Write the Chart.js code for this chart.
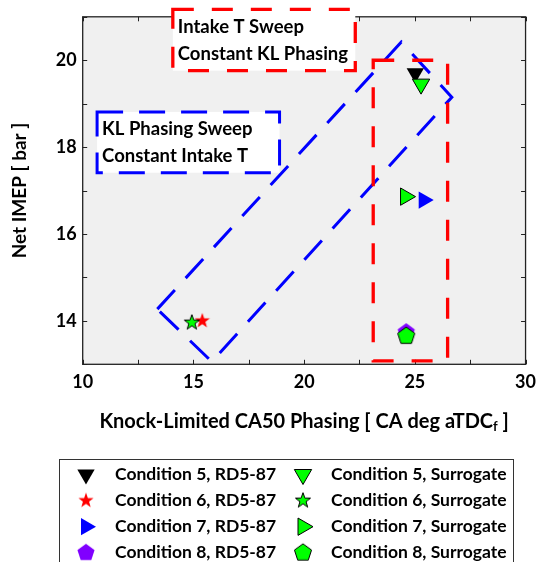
<!DOCTYPE html>
<html>
<head>
<meta charset="utf-8">
<script src="https://cdn.jsdelivr.net/npm/chart.js@4"></script>
<style>
  html, body { margin: 0; padding: 0; background: #fff; }
  #wrap { width: 543px; height: 562px; }
</style>
</head>
<body>
<div id="wrap"><canvas id="imepChart" width="543" height="562"></canvas></div>
<script>
const conditions = ['Condition 5', 'Condition 6', 'Condition 7', 'Condition 8'];
const rd5Phasing = [25.02, 15.40, 25.40, 24.61];
const rd5Imep = [19.70, 14.00, 16.78, 13.74];
const surPhasing = [25.28, 14.93, 24.58, 24.61];
const surImep = [19.45, 13.96, 16.86, 13.65];
const xTicks = [10, 15, 20, 25, 30];
const yTicks = [14, 16, 18, 20];

// annotation outlines, in data units
const intakeBoxX = [14.07, 22.31];
const intakeBoxY = [19.76, 21.17];
const intakeLines = ['Intake T Sweep', 'Constant KL Phasing'];
const klBoxX = [10.65, 18.89];
const klBoxY = [17.41, 18.81];
const klLines = ['KL Phasing Sweep', 'Constant Intake T'];
const intakeRegionX = [23.12, 26.48];
const intakeRegionY = [13.08, 20.0];
const klRegionX = [13.37, 24.39, 26.67, 15.83];
const klRegionY = [14.27, 20.42, 19.15, 13.06];

const FONT = 'Lato, "Open Sans", sans-serif';
const GREEN = '#00ff00';

// star / pentagon are not built in, so draw them into small canvases
function shapeCanvas(pts, R, fill, stroke) {
    const size = Math.ceil(2 * R + 4);
    const c = document.createElement('canvas');
    c.width = size; c.height = size;
    const g = c.getContext('2d');
    g.translate(size / 2, size / 2);
    g.beginPath();
    pts.forEach((p, i) => i ? g.lineTo(p[0], p[1]) : g.moveTo(p[0], p[1]));
    g.closePath();
    g.fillStyle = fill;
    g.fill();
    if (stroke) { g.strokeStyle = stroke; g.lineWidth = 1; g.stroke(); }
    return c;
}
function starPts(R) {
    const pts = [];
    for (let k = 0; k < 10; k++) {
        const r = k % 2 ? R * 0.4 : R;
        const a = -Math.PI / 2 + k * Math.PI / 5;
        pts.push([r * Math.cos(a), r * Math.sin(a)]);
    }
    return pts;
}
function pentaPts(R) {
    const pts = [];
    for (let k = 0; k < 5; k++) {
        const a = -Math.PI / 2 + k * 2 * Math.PI / 5;
        pts.push([R * Math.cos(a), R * Math.sin(a)]);
    }
    return pts;
}

const rd5Markers = [
    { pointStyle: 'triangle', rotation: 180, fill: '#000000', stroke: '#000000', bw: 0 },
    { pointStyle: shapeCanvas(starPts(8), 8, '#ff0000', null), rotation: 0, fill: '#ff0000', stroke: '#ff0000', bw: 0 },
    { pointStyle: 'triangle', rotation: 90, fill: '#0000ff', stroke: '#0000ff', bw: 0 },
    { pointStyle: shapeCanvas(pentaPts(9), 9, '#8000ff', null), rotation: 0, fill: '#8000ff', stroke: '#8000ff', bw: 0 }
];
const surMarkers = [
    { pointStyle: 'triangle', rotation: 180, fill: GREEN, stroke: '#000000', bw: 1 },
    { pointStyle: shapeCanvas(starPts(8), 8, GREEN, '#000000'), rotation: 0, fill: GREEN, stroke: '#000', bw: 1 },
    { pointStyle: 'triangle', rotation: 90, fill: GREEN, stroke: '#000000', bw: 1 },
    { pointStyle: shapeCanvas(pentaPts(9), 9, GREEN, '#000000'), rotation: 0, fill: GREEN, stroke: '#000', bw: 1 }
];

function markerDataset(label, x, y, m, order) {
    return {
        label: label,
        data: [{ x: x, y: y }],
        order: order,
        pointStyle: m.pointStyle,
        pointRotation: m.rotation,
        pointRadius: 10,
        pointHoverRadius: 10,
        backgroundColor: m.fill,
        borderColor: m.stroke,
        borderWidth: m.bw,
        pointHoverBorderWidth: m.bw
    };
}

const datasets = [];
conditions.forEach((c, i) => {
    datasets.push(markerDataset(c + ', Surrogate', surPhasing[i], surImep[i], surMarkers[i], 0));
    datasets.push(markerDataset(c + ', RD5-87', rd5Phasing[i], rd5Imep[i], rd5Markers[i], 1));
});

// gray plot background
const plotBackground = {
    id: 'plotBackground',
    beforeDraw(chart) {
        const { ctx, chartArea: a } = chart;
        ctx.save();
        ctx.fillStyle = '#f0f0f0';
        ctx.fillRect(a.left, a.top, a.right - a.left, a.bottom - a.top);
        ctx.restore();
    }
};

function dashedPath(ctx, pts, color, width, dash) {
    ctx.save();
    ctx.strokeStyle = color;
    ctx.lineWidth = width;
    ctx.setLineDash(dash);
    ctx.beginPath();
    pts.forEach((p, i) => i ? ctx.lineTo(p[0], p[1]) : ctx.moveTo(p[0], p[1]));
    ctx.closePath();
    ctx.stroke();
    ctx.restore();
}

// frame, inward ticks, dashed annotations
const frameAndNotes = {
    id: 'frameAndNotes',
    beforeDatasetsDraw(chart) {
        const { ctx, chartArea: a, scales: { x, y } } = chart;
        ctx.save();
        ctx.strokeStyle = '#222';
        ctx.lineWidth = 1;
        x.ticks.forEach(t => {
            const px = Math.round(x.getPixelForValue(t.value)) + 0.5;
            ctx.beginPath();
            ctx.moveTo(px, a.bottom); ctx.lineTo(px, a.bottom - 4.5);
            ctx.moveTo(px, a.top); ctx.lineTo(px, a.top + 4.5);
            ctx.stroke();
        });
        y.ticks.forEach(t => {
            const py = Math.round(y.getPixelForValue(t.value)) + 0.5;
            ctx.beginPath();
            ctx.moveTo(a.left, py); ctx.lineTo(a.left + 4.5, py);
            ctx.moveTo(a.right, py); ctx.lineTo(a.right - 4.5, py);
            ctx.stroke();
        });
        ctx.lineWidth = 1.3;
        ctx.strokeRect(a.left, a.top, a.right - a.left, a.bottom - a.top);
        ctx.restore();

        const boxPts = (bx, by) => [
            [x.getPixelForValue(bx[0]), y.getPixelForValue(by[1])],
            [x.getPixelForValue(bx[1]), y.getPixelForValue(by[1])],
            [x.getPixelForValue(bx[1]), y.getPixelForValue(by[0])],
            [x.getPixelForValue(bx[0]), y.getPixelForValue(by[0])]
        ];

        // blue slanted region
        const klPts = klRegionX.map((v, i) => [x.getPixelForValue(v), y.getPixelForValue(klRegionY[i])]);
        dashedPath(ctx, klPts, '#0000ff', 3, [26, 16]);
        // red region
        dashedPath(ctx, boxPts(intakeRegionX, intakeRegionY), '#ff0000', 3.3, [21, 18]);

        // text boxes
        const textBox = (bx, by, lines, color, dash, lw) => {
            const p = boxPts(bx, by);
            ctx.save();
            ctx.fillStyle = '#ffffff';
            ctx.fillRect(p[0][0], p[0][1], p[1][0] - p[0][0], p[2][1] - p[0][1]);
            ctx.restore();
            dashedPath(ctx, p, color, lw, dash);
            ctx.save();
            ctx.fillStyle = '#000';
            ctx.font = 'bold 18.5px ' + FONT;
            ctx.textBaseline = 'middle';
            lines.forEach((s, i) => ctx.fillText(s, p[0][0] + 5, p[0][1] + 17.5 + i * 27));
            ctx.restore();
        };
        textBox(intakeBoxX, intakeBoxY, intakeLines, '#ff0000', [21, 18], 3.3);
        textBox(klBoxX, klBoxY, klLines, '#0000ff', [26, 16], 3);
    }
};

function drawMarker(ctx, m, px, py) {
    ctx.save();
    ctx.fillStyle = m.fill;
    ctx.strokeStyle = m.stroke;
    ctx.lineWidth = m.bw;
    Chart.helpers.drawPoint(ctx, { pointStyle: m.pointStyle, rotation: m.rotation, radius: 10, borderWidth: m.bw }, px, py);
    ctx.restore();
}

// x title with subscript, and the two-column legend
const titleAndLegend = {
    id: 'titleAndLegend',
    afterDraw(chart) {
        const { ctx, chartArea: a } = chart;
        ctx.save();
        ctx.fillStyle = '#000';
        ctx.textBaseline = 'middle';
        const main = 'Knock-Limited CA50 Phasing [ CA deg aTDC';
        const tail = ' ]';
        const bigFont = 'bold 20px ' + FONT;
        const subFont = 'bold 13px ' + FONT;
        ctx.font = bigFont;
        const w1 = ctx.measureText(main).width, w3 = ctx.measureText(tail).width;
        ctx.font = subFont;
        const w2 = ctx.measureText('f').width;
        let tx = (a.left + a.right) / 2 - (w1 + w2 + w3) / 2;
        const ty = 421.7;
        ctx.font = bigFont;
        ctx.fillText(main, tx, ty);
        ctx.font = subFont;
        ctx.fillText('f', tx + w1, ty + 5);
        ctx.font = bigFont;
        ctx.fillText(tail, tx + w1 + w2, ty);

        // legend frame
        ctx.strokeStyle = '#333';
        ctx.lineWidth = 1;
        ctx.strokeRect(59.5, 459.5, 454, 120);
        ctx.font = 'bold 17.5px ' + FONT;
        conditions.forEach((c, i) => {
            const ry = 474.5 + i * 26.1;
            drawMarker(ctx, rd5Markers[i], 86, ry);
            drawMarker(ctx, surMarkers[i], 303, ry);
            ctx.fillStyle = '#000';
            ctx.fillText(c + ', RD5-87', 115, ry);
            ctx.fillText(c + ', Surrogate', 331, ry);
        });
        ctx.restore();
    }
};

const ctx = document.getElementById('imepChart').getContext('2d');
new Chart(ctx, {
    type: 'scatter',
    data: { datasets: datasets },
    options: {
        responsive: false,
        animation: false,
        layout: { padding: { left: 0, right: 13.7, top: 16.7, bottom: 147.7 } },
        plugins: { legend: { display: false }, tooltip: { enabled: false } },
        scales: {
            x: {
                type: 'linear', min: 10, max: 30,
                grid: { display: false, drawTicks: false },
                border: { display: false },
                ticks: {
                    stepSize: 2.5, padding: 7, autoSkip: false, maxRotation: 0, color: '#000',
                    font: { family: FONT, size: 18, weight: 'bold' },
                    callback: v => xTicks.includes(v) ? v : ''
                },
                afterFit: s => { s.height = 50; }
            },
            y: {
                type: 'linear', min: 13, max: 21,
                grid: { display: false, drawTicks: false },
                border: { display: false },
                ticks: {
                    stepSize: 1, padding: 6, autoSkip: false, color: '#000',
                    font: { family: FONT, size: 18, weight: 'bold' },
                    callback: v => yTicks.includes(v) ? v : ''
                },
                title: {
                    display: true, text: 'Net IMEP [ bar ]', color: '#000',
                    font: { family: FONT, size: 19, weight: 'bold' },
                    padding: { top: 8, bottom: 0 }
                },
                afterFit: s => { s.width = 82.7; }
            }
        }
    },
    plugins: [plotBackground, frameAndNotes, titleAndLegend]
});
</script>
</body>
</html>
